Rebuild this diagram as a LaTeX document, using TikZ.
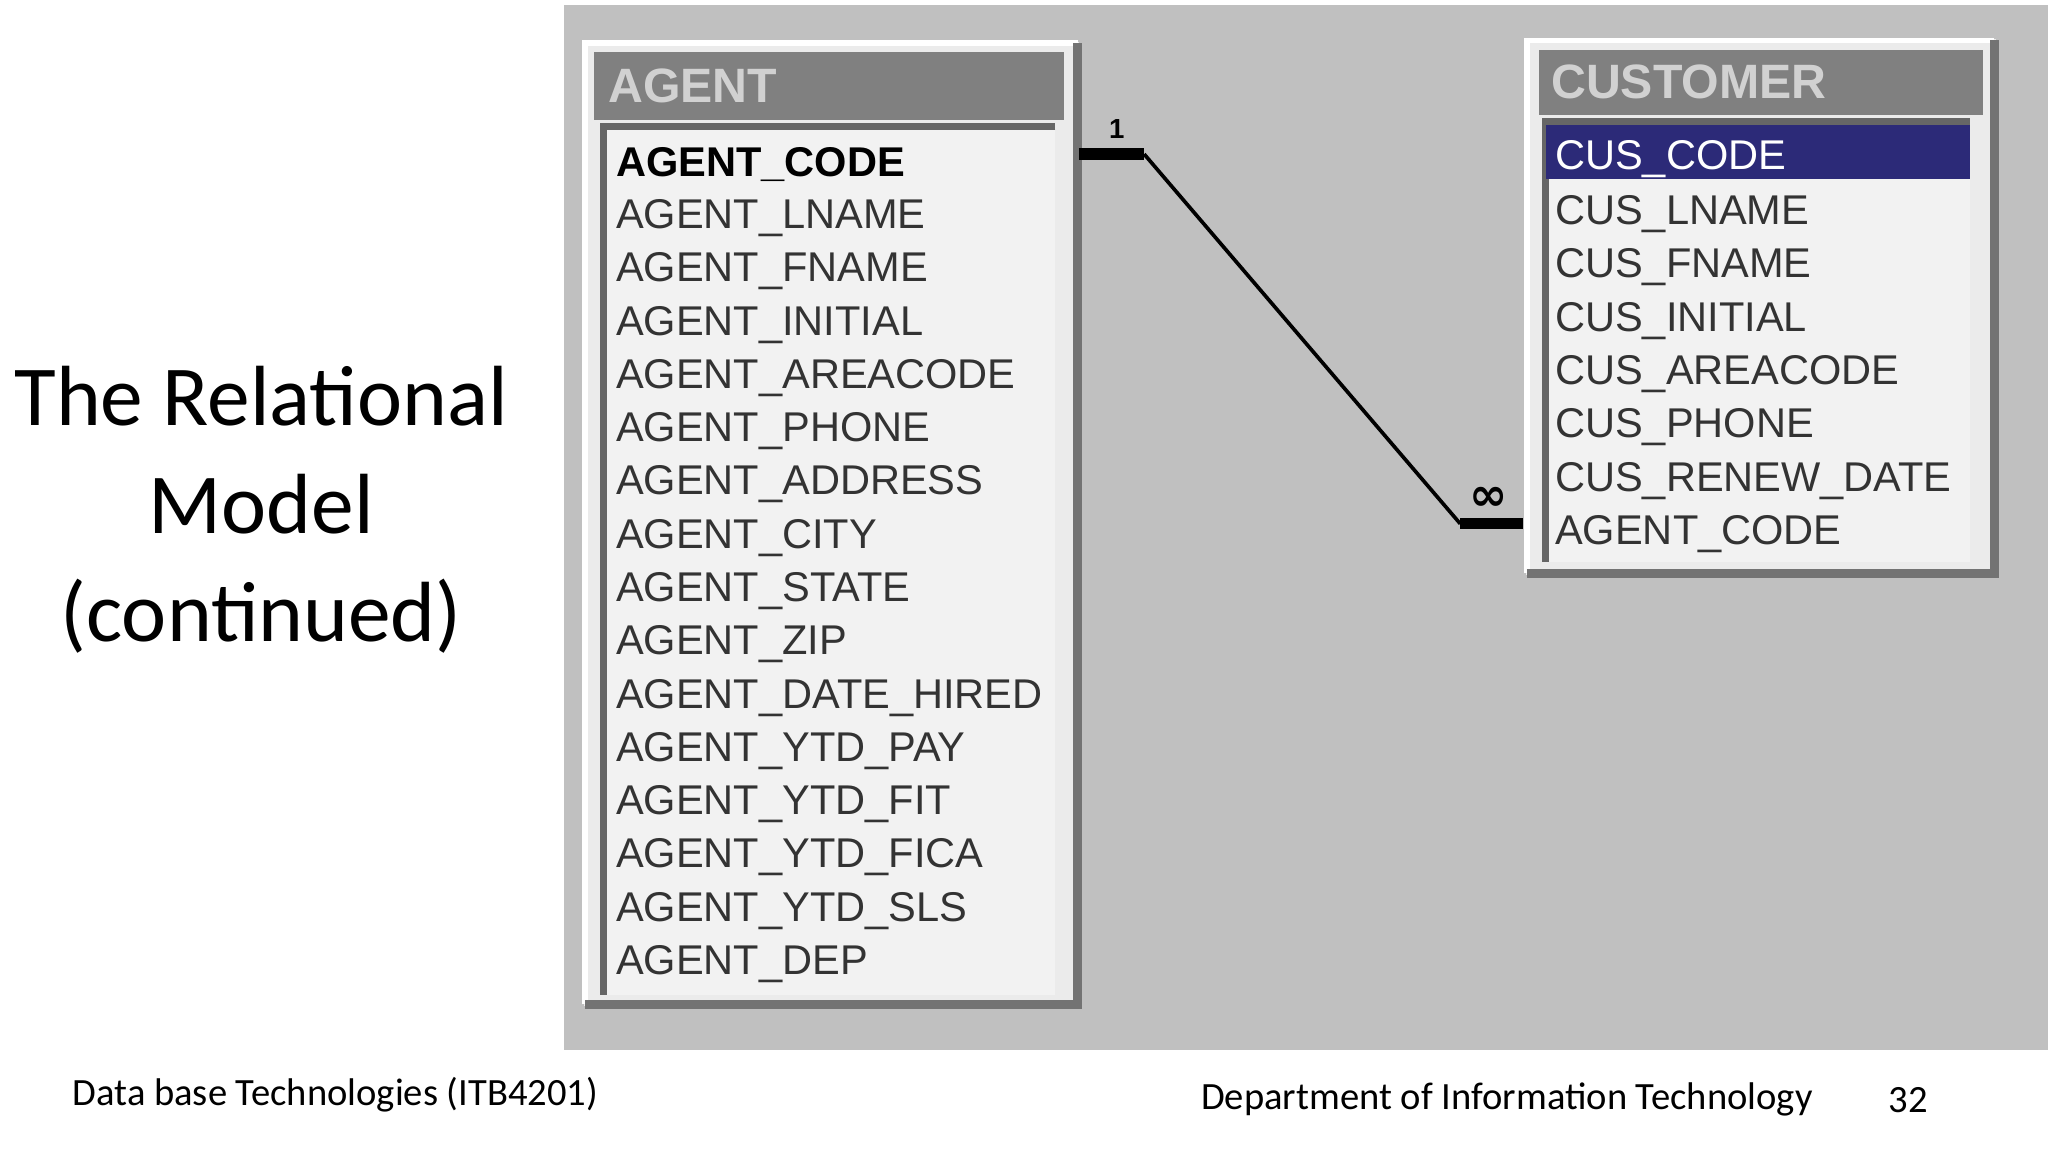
\documentclass[tikz,border=0pt]{standalone}
\usepackage{fontspec}
\setmainfont{Carlito}
\newfontfamily\tbl{Liberation Sans}
\newfontfamily\sym{DejaVu Sans}
\begin{document}
\begin{tikzpicture}[x=0.01cm,y=-0.01cm,
  row/.style={anchor=west,inner sep=0,font=\tbl\fontsize{9.05}{10}\selectfont,text=black!80},
  hdr/.style={anchor=west,inner sep=0,font=\tbl\bfseries\fontsize{10.5}{11}\selectfont,text=white!82!black},
  lbl/.style={inner sep=0,font=\fontsize{8.4}{10}\selectfont}]
\definecolor{bg}{HTML}{C0C0C0}
\definecolor{bar}{HTML}{808080}
\definecolor{list}{HTML}{F2F2F2}
\definecolor{sel}{HTML}{2C2A78}
\useasboundingbox (0,0) rectangle (1568,882);
\fill[bg] (432,4) rectangle (1568,804);
% titles
\node[align=center,font=\fontsize{18.6}{23.5}\selectfont] (title) at (200,390) {The Relational\\Model\\(continued)};
\node[lbl,anchor=west] (f1) at (55,838) {Data base Technologies (ITB4201)};
\node[lbl,anchor=west] (f2) at (919,842) {Department of Information Technology};
\node[lbl] (f3) at (1461,842) {32};
% AGENT table
\fill[white!92!black] (447,32) rectangle (826,770);
\draw[white,line width=1.2] (448,769) -- (448,33) -- (825,33);
\draw[black!55,line width=2] (448,769) -- (825,769) -- (825,33);
\fill[bar] (455,40) rectangle (815,92);
\node[hdr] (ah) at (465,66) {AGENT};
\fill[list] (462,97) rectangle (808,762);
\draw[black!60,line width=1.5] (808,97) -- (462,97) -- (462,762);
\foreach \t [count=\i from 0] in {AGENT\_LNAME,AGENT\_FNAME,AGENT\_INITIAL,AGENT\_AREACODE,AGENT\_PHONE,AGENT\_ADDRESS,AGENT\_CITY,AGENT\_STATE,AGENT\_ZIP,AGENT\_DATE\_HIRED,AGENT\_YTD\_PAY,AGENT\_YTD\_FIT,AGENT\_YTD\_FICA,AGENT\_YTD\_SLS,AGENT\_DEP}
  \node[row] (a\i) at (471,{167+40.8*\i}) {\t};
\node[row,font=\tbl\bfseries\fontsize{9.05}{10}\selectfont,text=black] (acode) at (471,126) {AGENT\_CODE};
% CUSTOMER table
\fill[white!92!black] (1168,30) rectangle (1528,440);
\draw[white,line width=1.2] (1169,439) -- (1169,31) -- (1527,31);
\draw[black!55,line width=2] (1169,439) -- (1527,439) -- (1527,31);
\fill[bar] (1178,38) rectangle (1518,88);
\node[hdr] (ch) at (1187,63) {CUSTOMER};
\fill[list] (1183,93) rectangle (1508,430);
\draw[black!60,line width=1.5] (1508,93) -- (1183,93) -- (1183,430);
\fill[sel] (1184,96) rectangle (1508,137);
\node[row,text=white] (ccode) at (1190,122) {CUS\_CODE};
\foreach \t [count=\i from 1] in {CUS\_LNAME,CUS\_FNAME,CUS\_INITIAL,CUS\_AREACODE,CUS\_PHONE,CUS\_RENEW\_DATE,AGENT\_CODE}
  \node[row] (c\i) at (1190,{123+40.85*\i}) {\t};
% relationship
\coordinate (p1) at (826,118);
\coordinate (p2) at (876,118);
\coordinate (p3) at (1118,401);
\coordinate (p4) at (1166,401);
\draw[line width=2.5] (p1) -- (p2);
\draw[line width=0.8] (p2) -- (p3);
\draw[line width=2.5] (p3) -- (p4);
\node[inner sep=0,font=\tbl\bfseries\fontsize{6}{6}\selectfont] (one) at (855,99) {1};
\node[inner sep=0,font=\sym\bfseries\fontsize{10}{10}\selectfont] (many) at (1140,382) {∞};
\end{tikzpicture}
\end{document}
